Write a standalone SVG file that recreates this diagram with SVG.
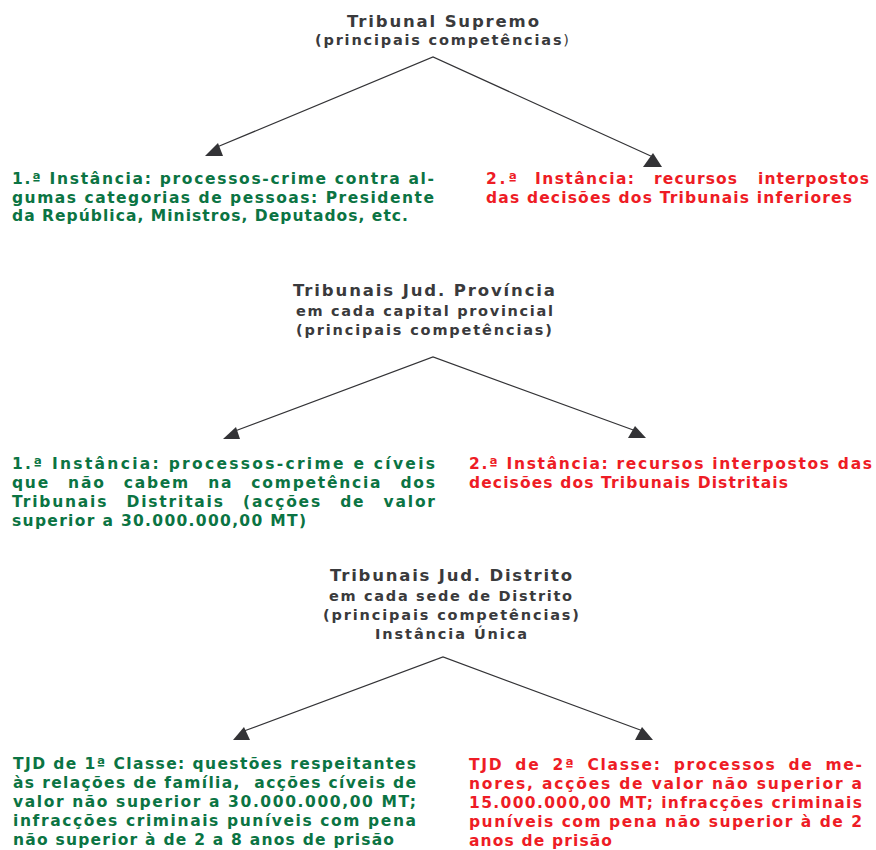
<svg xmlns="http://www.w3.org/2000/svg" width="876" height="850" viewBox="0 0 876 850">
<style>
text{font-family:"DejaVu Sans","Liberation Sans",sans-serif;font-weight:bold;}
.t1{font-size:16.5px;fill:#3a3a3c;}
.t2{font-size:14.5px;fill:#3a3a3c;}
.g{font-size:15.5px;fill:#0b7443;}
.r{font-size:15.5px;fill:#ee1c25;}
.thin{font-weight:normal;}
.ln{stroke:#333336;stroke-width:1.2;fill:none;}
.hd{fill:#333336;stroke:none;}
</style>
<rect width="876" height="850" fill="#ffffff"/>

<g id="connectors">
<path class="ln" d="M217,147 L433,57 L653,157"/>
<polygon class="hd" points="218,143 205,156 223,156"/>
<polygon class="hd" points="653,153 643,167 662,167"/>
<path class="ln" d="M235,431 L433,357 L636,431"/>
<polygon class="hd" points="236,427 223,439 240,439"/>
<polygon class="hd" points="635,426 628,438 646,438"/>
<path class="ln" d="M244,731 L443,657 L643,731"/>
<polygon class="hd" points="244,727 233,740 250,740"/>
<polygon class="hd" points="642,727 635,740 653,740"/>
</g>

<g id="tribunal-supremo">
<text class="t1" x="347" y="27" textLength="192" lengthAdjust="spacing">Tribunal Supremo</text>
<text class="t2" x="315" y="45" textLength="254" lengthAdjust="spacing">(principais competências<tspan class="thin">)</tspan></text>
</g>

<g id="ts-primeira">
<text class="g" x="12" y="184" textLength="422" lengthAdjust="spacing">1.ª Instância: processos-crime contra al-</text>
<text class="g" x="12" y="202.5" textLength="422" lengthAdjust="spacing">gumas categorias de pessoas: Presidente</text>
<text class="g" x="12" y="221" textLength="396" lengthAdjust="spacing">da República, Ministros, Deputados, etc.</text>
</g>

<g id="ts-segunda">
<text class="r" x="486" y="184" textLength="31" lengthAdjust="spacing">2.ª</text>
<text class="r" x="535" y="184" textLength="99" lengthAdjust="spacing">Instância:</text>
<text class="r" x="654" y="184" textLength="83" lengthAdjust="spacing">recursos</text>
<text class="r" x="758" y="184" textLength="111" lengthAdjust="spacing">interpostos</text>
<text class="r" x="486" y="202.5" textLength="366" lengthAdjust="spacing">das decisões dos Tribunais inferiores</text>
</g>

<g id="tribunais-provincia">
<text class="t1" x="293" y="296" textLength="262" lengthAdjust="spacing">Tribunais Jud. Província</text>
<text class="t2" x="296" y="316" textLength="257" lengthAdjust="spacing">em cada capital provincial</text>
<text class="t2" x="296" y="334.5" textLength="256" lengthAdjust="spacing">(principais competências)</text>
</g>

<g id="tp-primeira">
<text class="g" x="12" y="469" textLength="423" lengthAdjust="spacing">1.ª Instância: processos-crime e cíveis</text>
<text class="g" x="12" y="488" textLength="423" lengthAdjust="spacing" word-spacing="11">que não cabem na competência dos</text>
<text class="g" x="12" y="507" textLength="423" lengthAdjust="spacing" word-spacing="11">Tribunais Distritais (acções de valor</text>
<text class="g" x="12" y="526" textLength="294" lengthAdjust="spacing">superior a 30.000.000,00 MT)</text>
</g>

<g id="tp-segunda">
<text class="r" x="469" y="469" textLength="403" lengthAdjust="spacing">2.ª Instância: recursos interpostos das</text>
<text class="r" x="469" y="488" textLength="319" lengthAdjust="spacing">decisões dos Tribunais Distritais</text>
</g>

<g id="tribunais-distrito">
<text class="t1" x="330" y="581" textLength="242" lengthAdjust="spacing">Tribunais Jud. Distrito</text>
<text class="t2" x="329" y="601" textLength="243" lengthAdjust="spacing">em cada sede de Distrito</text>
<text class="t2" x="323" y="620" textLength="256" lengthAdjust="spacing">(principais competências)</text>
<text class="t2" x="375" y="639" textLength="152" lengthAdjust="spacing">Instância Única</text>
</g>

<g id="tjd-primeira">
<text class="g" x="13" y="769" textLength="403" lengthAdjust="spacing">TJD de 1ª Classe: questões respeitantes</text>
<text class="g" x="13" y="788" textLength="403" lengthAdjust="spacing" xml:space="preserve">às relações de família,  acções cíveis de</text>
<text class="g" x="13" y="807" textLength="403" lengthAdjust="spacing">valor não superior a 30.000.000,00 MT;</text>
<text class="g" x="13" y="826" textLength="403" lengthAdjust="spacing">infracções criminais puníveis com pena</text>
<text class="g" x="13" y="845" textLength="381" lengthAdjust="spacing">não superior à de 2 a 8 anos de prisão</text>
</g>

<g id="tjd-segunda">
<text class="r" x="469" y="770" textLength="393" lengthAdjust="spacing" word-spacing="5">TJD de 2ª Classe: processos de me-</text>
<text class="r" x="469" y="789" textLength="393" lengthAdjust="spacing">nores, acções de valor não superior a</text>
<text class="r" x="469" y="808" textLength="393" lengthAdjust="spacing">15.000.000,00 MT; infracções criminais</text>
<text class="r" x="469" y="827" textLength="393" lengthAdjust="spacing">puníveis com pena não superior à de 2</text>
<text class="r" x="469" y="846" textLength="143" lengthAdjust="spacing">anos de prisão</text>
</g>
</svg>
